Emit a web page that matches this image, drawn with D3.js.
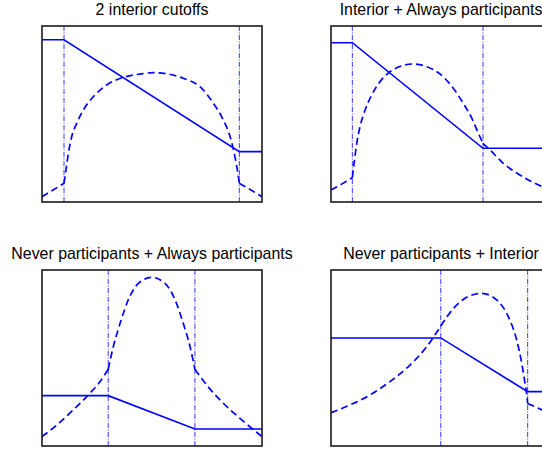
<!DOCTYPE html>
<html>
<head>
<meta charset="utf-8">
<script src="https://cdn.jsdelivr.net/npm/d3@7"></script>
<style>
  html, body { margin: 0; padding: 0; background: #fff; }
  svg { display: block; }
</style>
</head>
<body>
<svg id="chart" width="542" height="450"></svg>
<script>
// ---- data (x and y as fractions of each panel's axis range) ----
const titles = [
  "2 interior cutoffs",
  "Interior + Always participants",
  "Never participants + Always participants",
  "Never participants + Interior"
];
const cutoffs = [[0.10, 0.897], [0.097, 0.691], [0.301, 0.695], [0.499, 0.894]];
const solidLevels = [[0.922, 0.286], [0.905, 0.305], [0.286, 0.097], [0.614, 0.309]];

const dashed1 = [
  [[0, 0.03], [0.05, 0.068], [0.10, 0.106]],
  [[0.10, 0.106], [0.109, 0.182], [0.12, 0.277], [0.135, 0.371], [0.158, 0.447], [0.188, 0.523],
   [0.233, 0.598], [0.294, 0.665], [0.37, 0.708], [0.445, 0.727], [0.506, 0.735], [0.57, 0.728],
   [0.642, 0.703], [0.718, 0.655], [0.779, 0.561], [0.824, 0.466], [0.855, 0.371], [0.877, 0.257],
   [0.888, 0.182], [0.897, 0.106]],
  [[0.897, 0.106], [0.95, 0.068], [1.0, 0.03]]
];
const dashed2 = [
  [[0, 0.068], [0.05, 0.103], [0.097, 0.138]],
  [[0.097, 0.138], [0.105, 0.22], [0.117, 0.333], [0.132, 0.428], [0.155, 0.523], [0.185, 0.608],
   [0.223, 0.684], [0.268, 0.74], [0.321, 0.773], [0.371, 0.784], [0.435, 0.769], [0.495, 0.728],
   [0.556, 0.646], [0.601, 0.561], [0.640, 0.476], [0.67, 0.39], [0.691, 0.333]],
  [[0.691, 0.333], [0.723, 0.295], [0.783, 0.22], [0.859, 0.153], [0.95, 0.093], [1.0, 0.068]]
];
const dashed3 = [
  [[0, 0.053], [0.067, 0.119], [0.142, 0.205], [0.218, 0.30], [0.264, 0.366], [0.301, 0.436]],
  [[0.301, 0.436], [0.324, 0.564], [0.355, 0.697], [0.392, 0.83], [0.438, 0.924], [0.498, 0.958],
   [0.559, 0.924], [0.605, 0.83], [0.642, 0.697], [0.673, 0.564], [0.695, 0.436]],
  [[0.695, 0.436], [0.748, 0.347], [0.824, 0.243], [0.9, 0.157], [1.0, 0.053]]
];
const dashed4 = [
  [[0, 0.189], [0.086, 0.233], [0.177, 0.29], [0.268, 0.366], [0.359, 0.46], [0.435, 0.564], [0.499, 0.682]],
  [[0.499, 0.682], [0.557, 0.782], [0.617, 0.845], [0.685, 0.867], [0.753, 0.83], [0.806, 0.735],
   [0.844, 0.602], [0.867, 0.47], [0.882, 0.356], [0.889, 0.30], [0.894, 0.242]],
  [[0.894, 0.242], [0.93, 0.222], [0.959, 0.205], [1.0, 0.19]]
];
const dashedSets = [dashed1, dashed2, dashed3, dashed4];

// ---- layout ----
const panelX = [42, 331, 42, 331];
const panelY = [26, 26, 270, 270];
const pw = 220, ph = 176;
const blue = "#0000ff";

const svg = d3.select("#chart");

titles.forEach((title, i) => {
  const x = d3.scaleLinear().domain([0, 1]).range([0, pw]);
  const y = d3.scaleLinear().domain([0, 1]).range([ph, 0]);
  const g = svg.append("g").attr("transform", `translate(${panelX[i]},${panelY[i]})`);

  g.append("clipPath").attr("id", "clip" + i)
    .append("rect").attr("x", 0).attr("y", 0).attr("width", pw).attr("height", ph);

  const inner = g.append("g").attr("clip-path", `url(#clip${i})`);

  // cutoff lines
  inner.selectAll("line.cut").data(cutoffs[i]).enter().append("line")
    .attr("class", "cut")
    .attr("x1", d => x(d)).attr("x2", d => x(d))
    .attr("y1", y(0)).attr("y2", y(1))
    .attr("stroke", blue).attr("stroke-width", 0.8)
    .attr("stroke-dasharray", "5,1.5,1,1.5");

  // solid piecewise-linear line
  const [c1, c2] = cutoffs[i];
  const [l0, l1] = solidLevels[i];
  const solidPts = [[0, l0], [c1, l0], [c2, l1], [1, l1]];
  inner.append("path")
    .attr("d", d3.line().x(d => x(d[0])).y(d => y(d[1]))(solidPts))
    .attr("fill", "none").attr("stroke", blue).attr("stroke-width", 1.6);

  // dashed curve: each segment drawn with its own smooth curve, kinks at the cutoffs
  const curveLine = d3.line().x(d => x(d[0])).y(d => y(d[1])).curve(d3.curveMonotoneX);
  let dashPath = "";
  dashedSets[i].forEach(seg => { dashPath += curveLine(seg); });
  inner.append("path")
    .attr("d", dashPath)
    .attr("fill", "none").attr("stroke", blue).attr("stroke-width", 1.7)
    .attr("stroke-dasharray", "7,4");

  // frame
  g.append("rect").attr("x", 0).attr("y", 0).attr("width", pw).attr("height", ph)
    .attr("fill", "none").attr("stroke", "#1a1a1a").attr("stroke-width", 1.6);

  // title
  g.append("text")
    .attr("x", pw / 2).attr("y", -11)
    .attr("text-anchor", "middle")
    .attr("font-family", "Liberation Sans, Arial, Helvetica, sans-serif")
    .attr("font-size", "15.9px")
    .attr("fill", "#000")
    .text(title);
});
</script>
</body>
</html>
